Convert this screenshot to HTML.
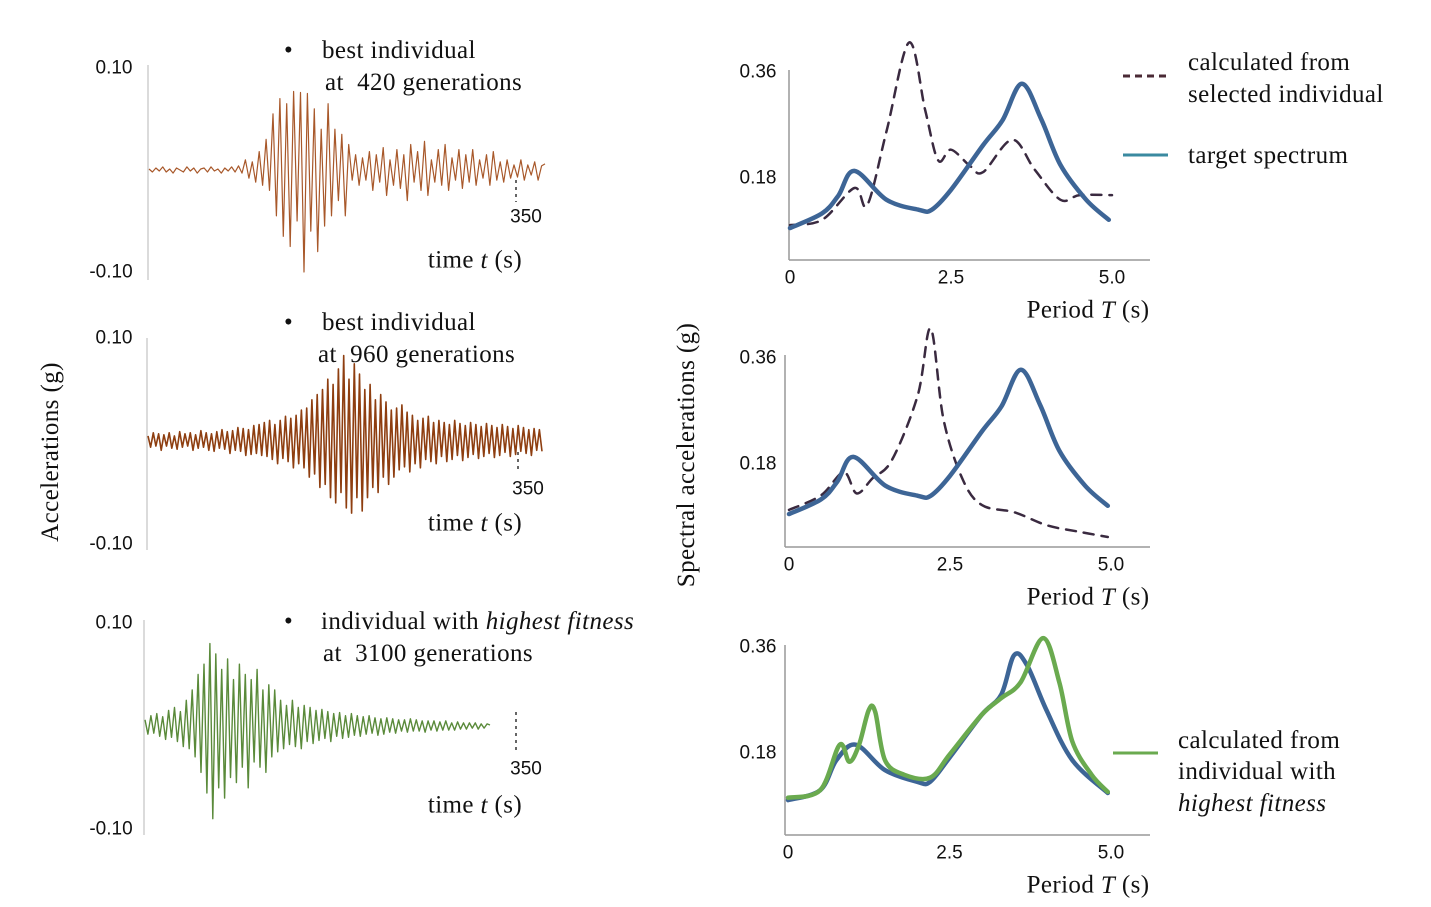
<!DOCTYPE html>
<html><head><meta charset="utf-8"><style>
html,body{margin:0;padding:0;background:#fff;}
svg{display:block;}
.sf{font-family:"Liberation Serif",serif;font-size:25px;fill:#111;letter-spacing:0.4px;white-space:pre;}
.ss{font-family:"Liberation Sans",sans-serif;font-size:19px;fill:#111;}
</style></head><body>
<svg id="fig" width="1431" height="907" viewBox="0 0 1431 907" xmlns="http://www.w3.org/2000/svg">
<g id="static">
<text class="sf" x="284" y="58">•</text>
<text class="sf" x="322" y="58">best individual</text>
<text class="sf" x="325" y="90" xml:space="preserve">at  420 generations</text>
<text class="sf" x="284" y="330">•</text>
<text class="sf" x="322" y="330">best individual</text>
<text class="sf" x="318" y="362" xml:space="preserve">at  960 generations</text>
<text class="sf" x="284" y="629">•</text>
<text class="sf" x="321" y="629">individual with <tspan font-style="italic">highest fitness</tspan></text>
<text class="sf" x="323" y="661" xml:space="preserve">at  3100 generations</text>
<text class="sf" transform="translate(58,452) rotate(-90)" text-anchor="middle" font-size="22">Accelerations (g)</text>
<text class="sf" transform="translate(694,455) rotate(-90)" text-anchor="middle" font-size="22">Spectral accelerations (g)</text>
<line x1="1123" y1="76" x2="1168" y2="76" stroke="#4a2a35" stroke-width="3" stroke-dasharray="7,5"/>
<text class="sf" x="1188" y="70">calculated from</text>
<text class="sf" x="1188" y="102">selected individual</text>
<line x1="1123" y1="155" x2="1168" y2="155" stroke="#3a8aa0" stroke-width="3"/>
<text class="sf" x="1188" y="163">target spectrum</text>
<line x1="1113" y1="753" x2="1158" y2="753" stroke="#6aaa4f" stroke-width="3"/>
<text class="sf" x="1178" y="748">calculated from</text>
<text class="sf" x="1178" y="779">individual with</text>
<text class="sf" x="1178" y="811" font-style="italic">highest fitness</text>
</g>
</svg>
<script>
const wave1 = [0.1,-0.2,0.2,-0.1,0.3,-0.2,0.1,-0.3,0.2,0,-0.2,0.3,-0.1,0.2,-0.3,0.1,0.2,-0.2,0.3,-0.1,0.1,-0.3,0.2,-0.1,0.3,-0.2,0.4,-0.3,1.0,-0.8,0.8,
-1.2,1.8,-1.5,3.0,-2.0,5.5,-4.5,7.0,-6.5,6.5,-7.5,7.7,-5.0,7.6,-10.0,7.5,-6.0,6.0,-8.0,4.0,-5.5,6.5,-4.5,4.0,-3.0,3.5,-4.5,2.5,-1.0,1.5,
-1.5,1.2,-1.0,1.8,-2.0,1.5,-1.2,2.2,-2.5,1.0,-1.5,2.0,-1.8,1.5,-3.0,2.5,-1.2,1.8,-2.0,2.8,-2.5,1.0,-1.2,2.0,-1.5,2.5,-2.0,1.2,-1.0,2.0,-1.8,1.5,-1.2,2.0,-1.5,1.0,-0.8,1.5,-1.5,1.8,-1.0,0.8,-1.2,1.0,-0.8,0.5,-0.7,1.0,-1.0,0.5,-0.5,0.8,-1.0,0.4,0.6];
const wave2 = [0.5,-0.6,0.8,-0.5,0.7,-0.9,0.6,-0.5,0.8,-0.7,0.5,-0.8,0.9,-0.6,0.7,-0.5,0.8,-0.9,0.6,-0.7,1.0,-0.6,0.8,-0.9,0.7,-1.0,0.9,-0.7,1.1,-0.8,0.9,-1.2,1.0,-0.9,1.3,-1.0,1.2,-1.4,1.1,-1.3,1.5,-1.2,1.6,-1.4,1.8,-1.5,2.0,-1.8,1.6,-2.2,2.0,-1.7,2.4,-2.0,2.2,-2.6,2.5,-2.2,3.0,-2.6,
3.2,-3.5,4.0,-3.2,4.5,-4.5,5.0,-4.2,6.0,-5.5,5.5,-6.0,7.0,-5.0,8.3,-6.5,6.0,-7.0,7.5,-5.5,6.5,-6.8,5.0,-5.5,5.5,-4.5,4.0,-5.0,4.5,-3.5,3.8,-4.2,3.0,-3.5,3.2,-2.8,3.5,-2.5,2.8,-3.0,
2.5,-2.2,2.0,-2.6,2.2,-1.8,2.4,-2.0,1.8,-2.2,2.0,-1.5,1.8,-2.0,1.6,-1.8,2.0,-1.4,1.7,-1.9,1.5,-1.6,1.8,-1.3,1.6,-1.7,1.4,-1.5,1.7,-1.2,1.5,-1.6,1.3,-1.4,1.6,-1.1,1.4,-1.5,1.2,-1.3,1.5,-1.0,1.3,-1.2,1.1,-1.4,1.2,-0.9,1.1,-1.0];
const wave3 = [0.6,-0.8,1.0,-0.7,1.2,-1.0,0.9,-1.3,1.5,-1.1,1.8,-1.5,1.4,-2.0,2.5,
-2.2,3.5,-3.0,5.0,-4.5,6.0,-6.5,8.0,-9.0,7.0,-6.0,5.5,-7.0,6.5,-5.0,4.5,-5.5,6.0,-4.0,5.0,-6.0,4.5,-3.5,5.5,-4.0,3.5,-4.5,4.0,-3.0,3.5,
-2.5,2.5,-2.2,2.0,-1.8,2.5,-2.0,1.8,-2.2,2.0,-1.5,1.8,-1.7,1.5,-1.4,1.6,-1.2,1.4,-1.5,1.2,-1.0,1.3,-1.2,1.0,-1.1,1.2,-0.9,1.0,-1.0,0.9,-0.8,1.0,-0.7,0.8,-0.9,0.7,-0.8,0.8,-0.6,0.7,-0.7,0.6,-0.5,0.6,-0.6,0.7,-0.5,0.6,-0.5,0.5,-0.6,0.5,-0.4,0.5,-0.5,0.4,-0.4,0.5,-0.4,0.3,-0.4,0.4,-0.3,0.3,-0.3,0.3,-0.2,0.3,-0.3,0.2,-0.2,0.2,0.1];
const periods = [0,0.5,0.75,1.0,1.5,2.0,2.2,2.5,3.0,3.3,3.6,3.9,4.2,4.6,4.95];
const targetSa = [0.095,0.12,0.15,0.192,0.143,0.126,0.126,0.16,0.236,0.278,0.34,0.28,0.202,0.143,0.109];
const dash1T = [0,0.5,1.0,1.2,1.5,1.85,2.1,2.3,2.5,2.8,3.0,3.45,3.8,4.2,4.5,5.0];
const dash1Sa = [0.1,0.109,0.163,0.134,0.26,0.41,0.295,0.21,0.228,0.2,0.19,0.245,0.194,0.143,0.151,0.151];
const dash2T = [0,0.5,0.85,1.05,1.3,1.6,2.0,2.2,2.4,2.7,3.0,3.5,4.0,4.5,4.95];
const dash2Sa = [0.102,0.127,0.166,0.13,0.156,0.187,0.297,0.41,0.255,0.153,0.11,0.098,0.076,0.065,0.056];
const blue3T = [0,0.5,0.75,1.05,1.5,2.0,2.2,2.5,3.0,3.3,3.5,3.7,4.0,4.4,4.95];
const blue3Sa = [0.1,0.117,0.168,0.194,0.151,0.131,0.131,0.172,0.245,0.279,0.346,0.329,0.253,0.168,0.112];
const greenT = [0,0.5,0.8,0.95,1.1,1.25,1.35,1.5,1.8,2.2,2.5,3.0,3.3,3.6,3.95,4.2,4.4,4.7,4.95];
const greenSa = [0.104,0.117,0.194,0.165,0.194,0.253,0.25,0.168,0.143,0.138,0.177,0.245,0.273,0.3,0.375,0.3,0.2,0.143,0.114];
const yTicks = ["0.36","0.18"];
const yTickVals = [0.36,0.18];
const xTicks = ["0","2.5","5.0"];
const xTickVals = [0,2.5,5.0];

const NS="http://www.w3.org/2000/svg";
const svg=document.getElementById('fig');
function mk(tag,attrs,parent){const e=document.createElementNS(NS,tag);for(const k in attrs)e.setAttribute(k,attrs[k]);(parent||svg).appendChild(e);return e;}
function txt(cls,x,y,s,anchor,parent){const t=mk('text',{class:cls,x:x,y:y,'text-anchor':anchor||'start','dominant-baseline':'central'},parent);t.textContent=s;return t;}

function waveChart(name,data,cfg){
  const g=mk('g',{});
  
  
  const ax=mk('line',{x1:cfg.ax,y1:cfg.top,x2:cfg.ax,y2:cfg.bot,stroke:'#cfcfcf','stroke-width':1.5},g);
  
  
  const sx=i=>cfg.x0+i*(cfg.x1-cfg.x0)/(data.length-1);
  const sy=v=>cfg.zero-v*cfg.k;
  const pts=data.map((v,i)=>sx(i).toFixed(1)+','+sy(v).toFixed(1)).join(' ');
  const pl=mk('polyline',{points:pts,fill:'none',stroke:cfg.color,'stroke-width':cfg.w,'stroke-linejoin':'round'},g);
  
  
  const tk=mk('line',{x1:cfg.tx,y1:cfg.ty1,x2:cfg.tx,y2:cfg.ty2,stroke:'#333','stroke-width':1.5,'stroke-dasharray':'3,4'},g);
  
  
  const a=txt('ss',114,sy(10),'0.10','middle',g);
  
  
  const b=txt('ss',111,sy(-10),'-0.10','middle',g);
  
  
  const c=txt('ss',cfg.tx+10,cfg.ly,'350','middle',g);
  
  
  const d=mk('text',{class:'sf',x:475,y:cfg.ty,'text-anchor':'middle','dominant-baseline':'central','font-size':22},g);
  d.innerHTML='time <tspan font-style="italic">t</tspan> (s)';
  
  
}
waveChart('accel-chart-420',wave1,{ax:148,top:65,bot:280,x0:149,x1:545,zero:170,k:10.2,color:'#a8582a',w:1.2,tx:516,ty1:180,ty2:202,ly:217,ty:260});
waveChart('accel-chart-960',wave2,{ax:147,top:338,bot:550,x0:148,x1:542,zero:441,k:10.3,color:'#8e3e10',w:1.6,tx:518,ty1:452,ty2:472,ly:489,ty:523});
waveChart('accel-chart-3100',wave3,{ax:144,top:620,bot:835,x0:145,x1:490,zero:726,k:10.3,color:'#5a8a3a',w:1.4,tx:516,ty1:712,ty2:750,ly:769,ty:805});

function specChart(name,cfg,series){
  const g=mk('g',{});
  
  
  const sx=t=>cfg.x0+t*(cfg.x5-cfg.x0)/5;
  const sy=v=>cfg.y0-v*cfg.k;
  const ya=mk('line',{x1:cfg.ax,y1:cfg.top,x2:cfg.ax,y2:cfg.bot,stroke:'#999','stroke-width':1.5},g);
  
  
  const xa=mk('line',{x1:cfg.ax,y1:cfg.bot,x2:1150,y2:cfg.bot,stroke:'#999','stroke-width':1.5},g);
  
  
  yTickVals.forEach((v,i)=>{const t=txt('ss',758,sy(v),yTicks[i],'middle',g);
    
    });
  xTickVals.forEach((v,i)=>{const t=txt('ss',sx(v),cfg.bot+18,xTicks[i],'middle',g);
    
    });
  const pt=mk('text',{class:'sf',x:1088,y:cfg.bot+50,'text-anchor':'middle','dominant-baseline':'central','font-size':22},g);
  pt.innerHTML='Period <tspan font-style="italic">T</tspan> (s)';
  
  
  series.forEach(s=>{
    const pts=s.t.map((t,i)=>[sx(t),sy(s.v[i])]);
    let d='M'+pts[0][0]+','+pts[0][1];
    for(let i=0;i<pts.length-1;i++){
      const p0=pts[Math.max(0,i-1)],p1=pts[i],p2=pts[i+1],p3=pts[Math.min(pts.length-1,i+2)];
      const c1=[p1[0]+(p2[0]-p0[0])/6,p1[1]+(p2[1]-p0[1])/6],c2=[p2[0]-(p3[0]-p1[0])/6,p2[1]-(p3[1]-p1[1])/6];
      d+=' C'+c1[0].toFixed(1)+','+c1[1].toFixed(1)+' '+c2[0].toFixed(1)+','+c2[1].toFixed(1)+' '+p2[0].toFixed(1)+','+p2[1].toFixed(1);
    }
    const p=mk('path',{d:d,fill:'none',stroke:s.c,'stroke-width':s.w,'stroke-dasharray':s.dash||'none','stroke-linecap':'round'},g);
    
    
  });
}
specChart('spectrum-chart-420',{ax:789,top:70,bot:260,x0:790,x5:1112,y0:284,k:589},[
  {t:dash1T,v:dash1Sa,c:'#3a2a40',w:2.5,dash:'10,8',n:'selected-individual-spectrum'},
  {t:periods,v:targetSa,c:'#3d6596',w:4.5,n:'target-spectrum'}]);
specChart('spectrum-chart-960',{ax:785,top:355,bot:547,x0:789,x5:1111,y0:570,k:589},[
  {t:dash2T,v:dash2Sa,c:'#3a2a40',w:2.5,dash:'10,8',n:'selected-individual-spectrum'},
  {t:periods,v:targetSa,c:'#3d6596',w:4.5,n:'target-spectrum'}]);
specChart('spectrum-chart-3100',{ax:785,top:645,bot:835,x0:788,x5:1111,y0:859,k:589},[
  {t:blue3T,v:blue3Sa,c:'#3d6596',w:4.5,n:'target-spectrum'},
  {t:greenT,v:greenSa,c:'#6aaa4f',w:4.5,n:'highest-fitness-spectrum'}]);
</script>
</body></html>
